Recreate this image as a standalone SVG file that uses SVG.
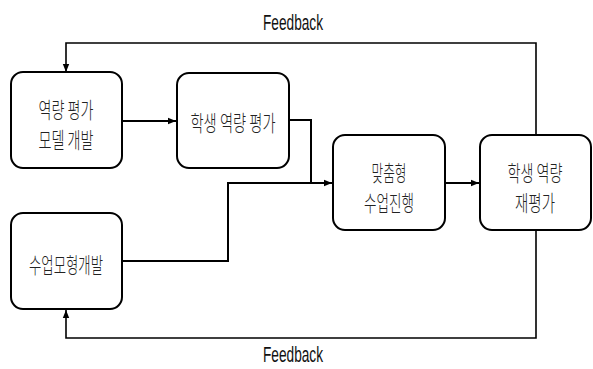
<svg xmlns="http://www.w3.org/2000/svg" width="593" height="369" viewBox="0 0 593 369">
<style>
.box{fill:#fff;stroke:#000;stroke-width:2}
.t{font-family:"Noto Sans CJK KR","Liberation Sans",sans-serif;font-size:22px;font-weight:300;fill:#222;text-anchor:middle}
.fb{font-family:"Liberation Sans",sans-serif;font-size:22px;fill:#111;text-anchor:middle}
.c{fill:none;stroke:#000;stroke-width:2}
.f{fill:none;stroke:#000;stroke-width:1.6}
</style>
<defs>
<marker id="ah" viewBox="0 0 10 10" refX="10" refY="5" markerWidth="8" markerHeight="8" markerUnits="userSpaceOnUse" orient="auto">
<path d="M0,1 L10,5 L0,9 z" fill="#000"/>
</marker>
</defs>
<rect width="593" height="369" fill="#fff"/>
<g id="connectors">
<path class="c" d="M122,121 H176" marker-end="url(#ah)"/>
<path class="c" d="M289,120 H311 V183 H332" marker-end="url(#ah)"/>
<path class="c" d="M122,261 H228 V183 H311"/>
<path class="c" d="M445,183 H479" marker-end="url(#ah)"/>
<path class="f" d="M536,135 V43 H66 V72" marker-end="url(#ah)"/>
<path class="f" d="M536,230 V338 H66 V310" marker-end="url(#ah)"/>
</g>
<g id="fb-top"><text class="fb" x="293" y="30" textLength="60" lengthAdjust="spacingAndGlyphs">Feedback</text></g>
<g id="fb-bottom"><text class="fb" x="293" y="362" textLength="60" lengthAdjust="spacingAndGlyphs">Feedback</text></g>
<g id="n1">
<rect class="box" x="11" y="72" width="111" height="96" rx="12"/>
<text class="t" x="66" y="118" textLength="55" lengthAdjust="spacingAndGlyphs">역량 평가</text>
<text class="t" x="66" y="148" textLength="55" lengthAdjust="spacingAndGlyphs">모델 개발</text>
</g>
<g id="n2">
<rect class="box" x="177" y="73" width="112" height="95" rx="12"/>
<text class="t" x="233" y="131" textLength="85" lengthAdjust="spacingAndGlyphs">학생 역량 평가</text>
</g>
<g id="n3">
<rect class="box" x="333" y="135" width="112" height="95" rx="12"/>
<text class="t" x="389" y="181" textLength="35" lengthAdjust="spacingAndGlyphs">맞춤형</text>
<text class="t" x="389" y="211" textLength="50" lengthAdjust="spacingAndGlyphs">수업진행</text>
</g>
<g id="n4">
<rect class="box" x="480" y="135" width="111" height="95" rx="12"/>
<text class="t" x="535" y="181" textLength="55" lengthAdjust="spacingAndGlyphs">학생 역량</text>
<text class="t" x="535" y="211" textLength="40" lengthAdjust="spacingAndGlyphs">재평가</text>
</g>
<g id="n5">
<rect class="box" x="11" y="213" width="111" height="96" rx="12"/>
<text class="t" x="66" y="273" textLength="74" lengthAdjust="spacingAndGlyphs">수업모형개발</text>
</g>
</svg>
